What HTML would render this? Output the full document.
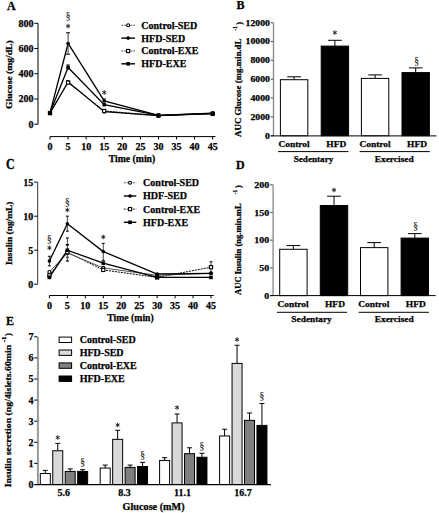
<!DOCTYPE html>
<html><head><meta charset="utf-8"><style>
html,body{margin:0;padding:0;background:#fff;}
body{width:439px;height:513px;overflow:hidden;}
svg{display:block;}
</style></head><body>
<svg width="439" height="513" viewBox="0 0 439 513" font-family="Liberation Serif" font-weight="bold" fill="#000"><style>text{stroke:#000;stroke-width:0.25px;}</style>
<rect x="0" y="0" width="439" height="513" fill="#fff"/>
<text transform="translate(7.00,10.00) scale(1,1.05)" x="0" y="0" font-size="12">A</text>
<line x1="38.00" y1="23.30" x2="38.00" y2="124.20" stroke="#000" stroke-width="1.0" />
<line x1="34.30" y1="124.20" x2="38.00" y2="124.20" stroke="#000" stroke-width="1.0" />
<text x="33.50" y="127.60" font-size="10" text-anchor="end" >0</text>
<line x1="34.30" y1="98.97" x2="38.00" y2="98.97" stroke="#000" stroke-width="1.0" />
<text x="33.50" y="102.38" font-size="10" text-anchor="end" >200</text>
<line x1="34.30" y1="73.75" x2="38.00" y2="73.75" stroke="#000" stroke-width="1.0" />
<text x="33.50" y="77.15" font-size="10" text-anchor="end" >400</text>
<line x1="34.30" y1="48.53" x2="38.00" y2="48.53" stroke="#000" stroke-width="1.0" />
<text x="33.50" y="51.93" font-size="10" text-anchor="end" >600</text>
<line x1="34.30" y1="23.30" x2="38.00" y2="23.30" stroke="#000" stroke-width="1.0" />
<text x="33.50" y="26.70" font-size="10" text-anchor="end" >800</text>
<text transform="translate(12.40,74.60) rotate(-90)" x="0" y="0" font-size="9" text-anchor="middle" textLength="68.6" lengthAdjust="spacingAndGlyphs">Glucose (mg/dL)</text>
<line x1="50.00" y1="136.60" x2="215.50" y2="136.60" stroke="#000" stroke-width="1.0" />
<line x1="50.00" y1="136.70" x2="50.00" y2="139.50" stroke="#000" stroke-width="1.0" />
<text x="50.00" y="150.20" font-size="10" text-anchor="middle" >0</text>
<line x1="68.08" y1="136.70" x2="68.08" y2="139.50" stroke="#000" stroke-width="1.0" />
<text x="68.08" y="150.20" font-size="10" text-anchor="middle" >5</text>
<line x1="86.16" y1="136.70" x2="86.16" y2="139.50" stroke="#000" stroke-width="1.0" />
<text x="86.16" y="150.20" font-size="10" text-anchor="middle" >10</text>
<line x1="104.23" y1="136.70" x2="104.23" y2="139.50" stroke="#000" stroke-width="1.0" />
<text x="104.23" y="150.20" font-size="10" text-anchor="middle" >15</text>
<line x1="122.31" y1="136.70" x2="122.31" y2="139.50" stroke="#000" stroke-width="1.0" />
<text x="122.31" y="150.20" font-size="10" text-anchor="middle" >20</text>
<line x1="140.39" y1="136.70" x2="140.39" y2="139.50" stroke="#000" stroke-width="1.0" />
<text x="140.39" y="150.20" font-size="10" text-anchor="middle" >25</text>
<line x1="158.47" y1="136.70" x2="158.47" y2="139.50" stroke="#000" stroke-width="1.0" />
<text x="158.47" y="150.20" font-size="10" text-anchor="middle" >30</text>
<line x1="176.54" y1="136.70" x2="176.54" y2="139.50" stroke="#000" stroke-width="1.0" />
<text x="176.54" y="150.20" font-size="10" text-anchor="middle" >35</text>
<line x1="194.62" y1="136.70" x2="194.62" y2="139.50" stroke="#000" stroke-width="1.0" />
<text x="194.62" y="150.20" font-size="10" text-anchor="middle" >40</text>
<line x1="212.70" y1="136.70" x2="212.70" y2="139.50" stroke="#000" stroke-width="1.0" />
<text x="212.70" y="150.20" font-size="10" text-anchor="middle" >45</text>
<text x="132.00" y="162.20" font-size="10" text-anchor="middle" textLength="46.5" lengthAdjust="spacingAndGlyphs" >Time (min)</text>
<polyline points="50.00,113.10 68.08,82.58 104.23,110.96 158.47,115.62 212.70,113.86" fill="none" stroke="#000" stroke-width="1.0" stroke-dasharray="2,1"/>
<polyline points="50.00,113.10 68.08,81.95 104.23,111.59 158.47,115.62 212.70,113.48" fill="none" stroke="#000" stroke-width="1.1"/>
<polyline points="50.00,112.85 68.08,67.44 104.23,104.65 158.47,115.37 212.70,113.48" fill="none" stroke="#000" stroke-width="1.3"/>
<polyline points="50.00,112.85 68.08,43.48 104.23,100.87 158.47,115.37 212.70,113.10" fill="none" stroke="#000" stroke-width="1.3"/>
<line x1="68.08" y1="32.76" x2="68.08" y2="54.20" stroke="#444" stroke-width="1" />
<line x1="66.08" y1="32.76" x2="70.08" y2="32.76" stroke="#222" stroke-width="1.2" />
<line x1="66.08" y1="54.20" x2="70.08" y2="54.20" stroke="#000" stroke-width="1" />
<line x1="68.08" y1="64.92" x2="68.08" y2="69.97" stroke="#444" stroke-width="1" />
<line x1="66.58" y1="64.92" x2="69.58" y2="64.92" stroke="#222" stroke-width="1.2" />
<line x1="104.23" y1="98.97" x2="104.23" y2="102.76" stroke="#444" stroke-width="1" />
<line x1="102.73" y1="98.97" x2="105.73" y2="98.97" stroke="#222" stroke-width="1.2" />
<circle cx="50.00" cy="113.10" r="1.50" fill="#fff" stroke="#000" stroke-width="1.1"/>
<circle cx="68.08" cy="81.95" r="1.50" fill="#fff" stroke="#000" stroke-width="1.1"/>
<circle cx="104.23" cy="111.59" r="1.50" fill="#fff" stroke="#000" stroke-width="1.1"/>
<circle cx="158.47" cy="115.62" r="1.50" fill="#fff" stroke="#000" stroke-width="1.1"/>
<circle cx="212.70" cy="113.48" r="1.50" fill="#fff" stroke="#000" stroke-width="1.1"/>
<rect x="48.40" y="111.50" width="3.20" height="3.20" fill="#fff" stroke="#000" stroke-width="1.1"/>
<rect x="66.48" y="80.98" width="3.20" height="3.20" fill="#fff" stroke="#000" stroke-width="1.1"/>
<rect x="102.63" y="109.36" width="3.20" height="3.20" fill="#fff" stroke="#000" stroke-width="1.1"/>
<rect x="156.87" y="114.02" width="3.20" height="3.20" fill="#fff" stroke="#000" stroke-width="1.1"/>
<rect x="211.10" y="112.26" width="3.20" height="3.20" fill="#fff" stroke="#000" stroke-width="1.1"/>
<rect x="48.20" y="111.05" width="3.60" height="3.60" fill="#000"/>
<rect x="66.28" y="65.64" width="3.60" height="3.60" fill="#000"/>
<rect x="102.43" y="102.85" width="3.60" height="3.60" fill="#000"/>
<rect x="156.67" y="113.57" width="3.60" height="3.60" fill="#000"/>
<rect x="210.90" y="111.68" width="3.60" height="3.60" fill="#000"/>
<circle cx="50.00" cy="112.85" r="1.80" fill="#000"/>
<circle cx="68.08" cy="43.48" r="1.80" fill="#000"/>
<circle cx="104.23" cy="100.87" r="1.80" fill="#000"/>
<circle cx="158.47" cy="115.37" r="1.80" fill="#000"/>
<circle cx="212.70" cy="113.10" r="1.80" fill="#000"/>
<path d="M68.08,23.80L68.08,28.40 M66.09,24.95L70.07,27.25 M70.07,24.95L66.09,27.25" stroke="#222" stroke-width="0.95" fill="none"/>
<text x="68.08" y="19.40" font-size="9.5" text-anchor="middle" font-weight="normal" fill="#222" style="stroke:#222;stroke-width:0.15px">§</text>
<path d="M104.23,90.20L104.23,94.80 M102.24,91.35L106.23,93.65 M106.23,91.35L102.24,93.65" stroke="#222" stroke-width="0.95" fill="none"/>
<line x1="121.30" y1="25.20" x2="135.00" y2="25.20" stroke="#555" stroke-width="1.1" stroke-dasharray="2,1"/>
<circle cx="128.15" cy="25.20" r="1.50" fill="#fff" stroke="#000" stroke-width="1.1"/>
<text x="141.30" y="28.60" font-size="10" text-anchor="start" >Control-SED</text>
<line x1="121.30" y1="38.10" x2="135.00" y2="38.10" stroke="#000" stroke-width="1.4" />
<circle cx="128.15" cy="38.10" r="1.80" fill="#000"/>
<text x="141.30" y="41.50" font-size="10" text-anchor="start" >HFD-SED</text>
<line x1="121.30" y1="51.00" x2="135.00" y2="51.00" stroke="#555" stroke-width="1.1" stroke-dasharray="2,1"/>
<rect x="126.55" y="49.40" width="3.20" height="3.20" fill="#fff" stroke="#000" stroke-width="1.1"/>
<text x="141.30" y="54.40" font-size="10" text-anchor="start" >Control-EXE</text>
<line x1="121.30" y1="63.80" x2="135.00" y2="63.80" stroke="#000" stroke-width="1.4" />
<rect x="126.35" y="62.00" width="3.60" height="3.60" fill="#000"/>
<text x="141.30" y="67.20" font-size="10" text-anchor="start" >HFD-EXE</text>
<text transform="translate(236.60,9.00) scale(1,1.0)" x="0" y="0" font-size="12">B</text>
<line x1="273.50" y1="22.70" x2="273.50" y2="135.70" stroke="#888" stroke-width="1.3" />
<line x1="270.80" y1="135.70" x2="273.20" y2="135.70" stroke="#666" stroke-width="1.2" />
<text x="269.90" y="138.60" font-size="8.1" text-anchor="end" textLength="4.86" lengthAdjust="spacingAndGlyphs" >0</text>
<line x1="270.80" y1="116.87" x2="273.20" y2="116.87" stroke="#666" stroke-width="1.2" />
<text x="269.90" y="119.77" font-size="8.1" text-anchor="end" textLength="19.44" lengthAdjust="spacingAndGlyphs" >2000</text>
<line x1="270.80" y1="98.03" x2="273.20" y2="98.03" stroke="#666" stroke-width="1.2" />
<text x="269.90" y="100.93" font-size="8.1" text-anchor="end" textLength="19.44" lengthAdjust="spacingAndGlyphs" >4000</text>
<line x1="270.80" y1="79.20" x2="273.20" y2="79.20" stroke="#666" stroke-width="1.2" />
<text x="269.90" y="82.10" font-size="8.1" text-anchor="end" textLength="19.44" lengthAdjust="spacingAndGlyphs" >6000</text>
<line x1="270.80" y1="60.37" x2="273.20" y2="60.37" stroke="#666" stroke-width="1.2" />
<text x="269.90" y="63.27" font-size="8.1" text-anchor="end" textLength="19.44" lengthAdjust="spacingAndGlyphs" >8000</text>
<line x1="270.80" y1="41.53" x2="273.20" y2="41.53" stroke="#666" stroke-width="1.2" />
<text x="269.90" y="44.43" font-size="8.1" text-anchor="end" textLength="24.3" lengthAdjust="spacingAndGlyphs" >10000</text>
<line x1="270.80" y1="22.70" x2="273.20" y2="22.70" stroke="#666" stroke-width="1.2" />
<text x="269.90" y="25.60" font-size="8.1" text-anchor="end" textLength="24.3" lengthAdjust="spacingAndGlyphs" >12000</text>
<line x1="270.80" y1="135.90" x2="436.40" y2="135.90" stroke="#000" stroke-width="1.0" />
<text transform="translate(241.10,136.90) rotate(-90)" x="0" y="0" font-size="7.8" text-anchor="start" textLength="98.3" lengthAdjust="spacingAndGlyphs">AUC Glucose (mg.min.dL</text>
<text transform="translate(236.60,30.40) rotate(-90)" x="0" y="0" font-size="5.5" text-anchor="start" textLength="4.2" lengthAdjust="spacingAndGlyphs">-1</text>
<text transform="translate(241.60,24.80) rotate(-90)" x="0" y="0" font-size="7.8" text-anchor="start" textLength="2.8" lengthAdjust="spacingAndGlyphs">)</text>
<line x1="294.10" y1="79.70" x2="294.10" y2="76.80" stroke="#000" stroke-width="1" />
<line x1="287.25" y1="76.80" x2="300.95" y2="76.80" stroke="#000" stroke-width="1" />
<rect x="280.40" y="79.70" width="27.40" height="56.00" fill="#fff" stroke="#000" stroke-width="1"/>
<line x1="334.90" y1="46.10" x2="334.90" y2="40.30" stroke="#000" stroke-width="1" />
<line x1="328.05" y1="40.30" x2="341.75" y2="40.30" stroke="#000" stroke-width="1" />
<rect x="321.20" y="46.10" width="27.40" height="89.60" fill="#000" stroke="#000" stroke-width="1"/>
<line x1="375.10" y1="78.40" x2="375.10" y2="74.90" stroke="#000" stroke-width="1" />
<line x1="368.25" y1="74.90" x2="381.95" y2="74.90" stroke="#000" stroke-width="1" />
<rect x="361.40" y="78.40" width="27.40" height="57.30" fill="#fff" stroke="#000" stroke-width="1"/>
<line x1="415.70" y1="72.60" x2="415.70" y2="67.90" stroke="#000" stroke-width="1" />
<line x1="408.85" y1="67.90" x2="422.55" y2="67.90" stroke="#000" stroke-width="1" />
<rect x="402.00" y="72.60" width="27.40" height="63.10" fill="#000" stroke="#000" stroke-width="1"/>
<path d="M334.90,30.30L334.90,34.90 M332.91,31.45L336.89,33.75 M336.89,31.45L332.91,33.75" stroke="#222" stroke-width="0.95" fill="none"/>
<text x="416.60" y="63.60" font-size="9.5" text-anchor="middle" font-weight="normal" fill="#222" style="stroke:#222;stroke-width:0.15px">§</text>
<text x="294.10" y="147.20" font-size="8.8" text-anchor="middle" textLength="31.21" lengthAdjust="spacingAndGlyphs" >Control</text>
<text x="336.30" y="147.20" font-size="8.8" text-anchor="middle" textLength="20.06" lengthAdjust="spacingAndGlyphs" >HFD</text>
<text x="375.10" y="147.20" font-size="8.8" text-anchor="middle" textLength="31.21" lengthAdjust="spacingAndGlyphs" >Control</text>
<text x="417.10" y="147.20" font-size="8.8" text-anchor="middle" textLength="20.06" lengthAdjust="spacingAndGlyphs" >HFD</text>
<line x1="278.10" y1="151.60" x2="348.40" y2="151.60" stroke="#000" stroke-width="1" />
<line x1="359.60" y1="151.60" x2="429.80" y2="151.60" stroke="#000" stroke-width="1" />
<text x="313.50" y="162.20" font-size="8.8" text-anchor="middle" textLength="39.66" lengthAdjust="spacingAndGlyphs" >Sedentary</text>
<text x="394.20" y="162.20" font-size="8.8" text-anchor="middle" textLength="39.05" lengthAdjust="spacingAndGlyphs" >Exercised</text>
<text transform="translate(5.90,169.30) scale(1,1.15)" x="0" y="0" font-size="12">C</text>
<line x1="37.60" y1="182.20" x2="37.60" y2="284.20" stroke="#555" stroke-width="1.2" />
<line x1="34.20" y1="284.20" x2="37.60" y2="284.20" stroke="#000" stroke-width="1.0" />
<text x="33.30" y="287.60" font-size="10" text-anchor="end" >0</text>
<line x1="34.20" y1="250.20" x2="37.60" y2="250.20" stroke="#000" stroke-width="1.0" />
<text x="33.30" y="253.60" font-size="10" text-anchor="end" >5</text>
<line x1="34.20" y1="216.20" x2="37.60" y2="216.20" stroke="#000" stroke-width="1.0" />
<text x="33.30" y="219.60" font-size="10" text-anchor="end" >10</text>
<line x1="34.20" y1="182.20" x2="37.60" y2="182.20" stroke="#000" stroke-width="1.0" />
<text x="33.30" y="185.60" font-size="10" text-anchor="end" >15</text>
<text transform="translate(12.20,233.30) rotate(-90)" x="0" y="0" font-size="9" text-anchor="middle" textLength="63.5" lengthAdjust="spacingAndGlyphs">Insulin (ng/mL)</text>
<line x1="49.40" y1="295.50" x2="213.80" y2="295.50" stroke="#000" stroke-width="1.0" />
<line x1="49.40" y1="295.50" x2="49.40" y2="298.30" stroke="#000" stroke-width="1.0" />
<text x="49.40" y="309.10" font-size="10" text-anchor="middle" >0</text>
<line x1="67.36" y1="295.50" x2="67.36" y2="298.30" stroke="#000" stroke-width="1.0" />
<text x="67.36" y="309.10" font-size="10" text-anchor="middle" >5</text>
<line x1="85.31" y1="295.50" x2="85.31" y2="298.30" stroke="#000" stroke-width="1.0" />
<text x="85.31" y="309.10" font-size="10" text-anchor="middle" >10</text>
<line x1="103.27" y1="295.50" x2="103.27" y2="298.30" stroke="#000" stroke-width="1.0" />
<text x="103.27" y="309.10" font-size="10" text-anchor="middle" >15</text>
<line x1="121.22" y1="295.50" x2="121.22" y2="298.30" stroke="#000" stroke-width="1.0" />
<text x="121.22" y="309.10" font-size="10" text-anchor="middle" >20</text>
<line x1="139.18" y1="295.50" x2="139.18" y2="298.30" stroke="#000" stroke-width="1.0" />
<text x="139.18" y="309.10" font-size="10" text-anchor="middle" >25</text>
<line x1="157.13" y1="295.50" x2="157.13" y2="298.30" stroke="#000" stroke-width="1.0" />
<text x="157.13" y="309.10" font-size="10" text-anchor="middle" >30</text>
<line x1="175.09" y1="295.50" x2="175.09" y2="298.30" stroke="#000" stroke-width="1.0" />
<text x="175.09" y="309.10" font-size="10" text-anchor="middle" >35</text>
<line x1="193.04" y1="295.50" x2="193.04" y2="298.30" stroke="#000" stroke-width="1.0" />
<text x="193.04" y="309.10" font-size="10" text-anchor="middle" >40</text>
<line x1="211.00" y1="295.50" x2="211.00" y2="298.30" stroke="#000" stroke-width="1.0" />
<text x="211.00" y="309.10" font-size="10" text-anchor="middle" >45</text>
<text x="130.50" y="320.60" font-size="10" text-anchor="middle" textLength="46.5" lengthAdjust="spacingAndGlyphs" >Time (min)</text>
<polyline points="49.40,275.36 67.36,252.24 103.27,269.92 157.13,277.40 211.00,267.20" fill="none" stroke="#000" stroke-width="1.0" stroke-dasharray="2,1"/>
<polyline points="49.40,271.96 67.36,252.92 103.27,267.88 157.13,275.36 211.00,273.32" fill="none" stroke="#555" stroke-width="1.0"/>
<polyline points="49.40,277.40 67.36,250.20 103.27,263.12 157.13,277.40 211.00,277.40" fill="none" stroke="#000" stroke-width="1.3"/>
<polyline points="49.40,261.08 67.36,223.68 103.27,251.56 157.13,274.00 211.00,273.32" fill="none" stroke="#000" stroke-width="1.3"/>
<line x1="49.40" y1="256.32" x2="49.40" y2="265.84" stroke="#444" stroke-width="1" />
<line x1="47.90" y1="256.32" x2="50.90" y2="256.32" stroke="#222" stroke-width="1.2" />
<line x1="47.90" y1="265.84" x2="50.90" y2="265.84" stroke="#000" stroke-width="1" />
<line x1="67.36" y1="216.20" x2="67.36" y2="231.16" stroke="#444" stroke-width="1" />
<line x1="65.86" y1="216.20" x2="68.86" y2="216.20" stroke="#222" stroke-width="1.2" />
<line x1="65.86" y1="231.16" x2="68.86" y2="231.16" stroke="#000" stroke-width="1" />
<line x1="67.36" y1="237.96" x2="67.36" y2="261.08" stroke="#444" stroke-width="1" />
<line x1="65.86" y1="237.96" x2="68.86" y2="237.96" stroke="#222" stroke-width="1.2" />
<line x1="65.86" y1="261.08" x2="68.86" y2="261.08" stroke="#000" stroke-width="1.2" />
<line x1="65.76" y1="244.80" x2="68.96" y2="244.80" stroke="#000" stroke-width="1.6" />
<line x1="65.86" y1="257.40" x2="68.86" y2="257.40" stroke="#555" stroke-width="1.4" />
<line x1="103.27" y1="243.40" x2="103.27" y2="260.40" stroke="#444" stroke-width="1" />
<line x1="101.77" y1="243.40" x2="104.77" y2="243.40" stroke="#222" stroke-width="1.2" />
<line x1="101.77" y1="260.40" x2="104.77" y2="260.40" stroke="#000" stroke-width="1" />
<line x1="211.00" y1="261.76" x2="211.00" y2="271.96" stroke="#444" stroke-width="1" />
<line x1="209.50" y1="261.76" x2="212.50" y2="261.76" stroke="#222" stroke-width="1.2" />
<circle cx="49.40" cy="271.96" r="1.50" fill="#fff" stroke="#000" stroke-width="1.1"/>
<circle cx="67.36" cy="252.92" r="1.50" fill="#fff" stroke="#000" stroke-width="1.1"/>
<circle cx="103.27" cy="267.88" r="1.50" fill="#fff" stroke="#000" stroke-width="1.1"/>
<circle cx="157.13" cy="275.36" r="1.50" fill="#fff" stroke="#000" stroke-width="1.1"/>
<circle cx="211.00" cy="273.32" r="1.50" fill="#fff" stroke="#000" stroke-width="1.1"/>
<rect x="47.80" y="273.76" width="3.20" height="3.20" fill="#fff" stroke="#000" stroke-width="1.1"/>
<rect x="65.76" y="250.64" width="3.20" height="3.20" fill="#fff" stroke="#000" stroke-width="1.1"/>
<rect x="101.67" y="268.32" width="3.20" height="3.20" fill="#fff" stroke="#000" stroke-width="1.1"/>
<rect x="155.53" y="275.80" width="3.20" height="3.20" fill="#fff" stroke="#000" stroke-width="1.1"/>
<rect x="209.40" y="265.60" width="3.20" height="3.20" fill="#fff" stroke="#000" stroke-width="1.1"/>
<rect x="47.60" y="275.60" width="3.60" height="3.60" fill="#000"/>
<rect x="65.56" y="248.40" width="3.60" height="3.60" fill="#000"/>
<rect x="101.47" y="261.32" width="3.60" height="3.60" fill="#000"/>
<rect x="155.33" y="275.60" width="3.60" height="3.60" fill="#000"/>
<rect x="209.20" y="275.60" width="3.60" height="3.60" fill="#000"/>
<circle cx="49.40" cy="261.08" r="1.80" fill="#000"/>
<circle cx="67.36" cy="223.68" r="1.80" fill="#000"/>
<circle cx="103.27" cy="251.56" r="1.80" fill="#000"/>
<circle cx="157.13" cy="274.00" r="1.80" fill="#000"/>
<circle cx="211.00" cy="273.32" r="1.80" fill="#000"/>
<path d="M49.40,245.50L49.40,250.10 M47.41,246.65L51.39,248.95 M51.39,246.65L47.41,248.95" stroke="#222" stroke-width="0.95" fill="none"/>
<text x="49.40" y="241.70" font-size="9.5" text-anchor="middle" font-weight="normal" fill="#222" style="stroke:#222;stroke-width:0.15px">§</text>
<path d="M67.36,207.70L67.36,212.30 M65.36,208.85L69.35,211.15 M69.35,208.85L65.36,211.15" stroke="#222" stroke-width="0.95" fill="none"/>
<text x="67.36" y="204.60" font-size="9.5" text-anchor="middle" font-weight="normal" fill="#222" style="stroke:#222;stroke-width:0.15px">§</text>
<path d="M103.27,234.70L103.27,239.30 M101.27,235.85L105.26,238.15 M105.26,235.85L101.27,238.15" stroke="#222" stroke-width="0.95" fill="none"/>
<line x1="123.80" y1="182.80" x2="136.30" y2="182.80" stroke="#555" stroke-width="1.1" stroke-dasharray="2,1"/>
<circle cx="130.05" cy="182.80" r="1.50" fill="#fff" stroke="#000" stroke-width="1.1"/>
<text x="143.10" y="186.20" font-size="10" text-anchor="start" >Control-SED</text>
<line x1="123.80" y1="196.00" x2="136.30" y2="196.00" stroke="#000" stroke-width="1.4" />
<circle cx="130.05" cy="196.00" r="1.80" fill="#000"/>
<text x="143.10" y="199.40" font-size="10" text-anchor="start" >HDF-SED</text>
<line x1="123.80" y1="209.10" x2="136.30" y2="209.10" stroke="#555" stroke-width="1.1" stroke-dasharray="2,1"/>
<rect x="128.45" y="207.50" width="3.20" height="3.20" fill="#fff" stroke="#000" stroke-width="1.1"/>
<text x="143.10" y="212.50" font-size="10" text-anchor="start" >Control-EXE</text>
<line x1="123.80" y1="222.30" x2="136.30" y2="222.30" stroke="#000" stroke-width="1.4" />
<rect x="128.25" y="220.50" width="3.60" height="3.60" fill="#000"/>
<text x="143.10" y="225.70" font-size="10" text-anchor="start" >HFD-EXE</text>
<text transform="translate(236.00,168.70) scale(1,1.1)" x="0" y="0" font-size="12">D</text>
<line x1="273.10" y1="184.80" x2="273.10" y2="295.60" stroke="#888" stroke-width="1.3" />
<line x1="270.20" y1="295.60" x2="272.80" y2="295.60" stroke="#666" stroke-width="1.2" />
<text x="269.20" y="298.60" font-size="8.8" text-anchor="end" textLength="4.97" lengthAdjust="spacingAndGlyphs" >0</text>
<line x1="270.20" y1="267.90" x2="272.80" y2="267.90" stroke="#666" stroke-width="1.2" />
<text x="269.20" y="270.90" font-size="8.8" text-anchor="end" textLength="9.94" lengthAdjust="spacingAndGlyphs" >50</text>
<line x1="270.20" y1="240.20" x2="272.80" y2="240.20" stroke="#666" stroke-width="1.2" />
<text x="269.20" y="243.20" font-size="8.8" text-anchor="end" textLength="14.92" lengthAdjust="spacingAndGlyphs" >100</text>
<line x1="270.20" y1="212.50" x2="272.80" y2="212.50" stroke="#666" stroke-width="1.2" />
<text x="269.20" y="215.50" font-size="8.8" text-anchor="end" textLength="14.92" lengthAdjust="spacingAndGlyphs" >150</text>
<line x1="270.20" y1="184.80" x2="272.80" y2="184.80" stroke="#666" stroke-width="1.2" />
<text x="269.20" y="187.80" font-size="8.8" text-anchor="end" textLength="14.92" lengthAdjust="spacingAndGlyphs" >200</text>
<line x1="270.20" y1="295.60" x2="435.70" y2="295.60" stroke="#000" stroke-width="1.0" />
<text transform="translate(240.80,294.90) rotate(-90)" x="0" y="0" font-size="7.8" text-anchor="start" textLength="91.5" lengthAdjust="spacingAndGlyphs">AUC Insulin (ng.min.mL</text>
<text transform="translate(236.60,194.20) rotate(-90)" x="0" y="0" font-size="5.5" text-anchor="start" textLength="4.2" lengthAdjust="spacingAndGlyphs">-1</text>
<text transform="translate(241.20,188.10) rotate(-90)" x="0" y="0" font-size="7.8" text-anchor="start" textLength="2.8" lengthAdjust="spacingAndGlyphs">)</text>
<line x1="293.40" y1="249.29" x2="293.40" y2="245.57" stroke="#000" stroke-width="1" />
<line x1="286.55" y1="245.57" x2="300.25" y2="245.57" stroke="#000" stroke-width="1" />
<rect x="279.70" y="249.29" width="27.40" height="46.31" fill="#fff" stroke="#000" stroke-width="1"/>
<line x1="334.00" y1="205.52" x2="334.00" y2="196.21" stroke="#000" stroke-width="1" />
<line x1="327.15" y1="196.21" x2="340.85" y2="196.21" stroke="#000" stroke-width="1" />
<rect x="320.30" y="205.52" width="27.40" height="90.08" fill="#000" stroke="#000" stroke-width="1"/>
<line x1="374.20" y1="247.62" x2="374.20" y2="242.58" stroke="#000" stroke-width="1" />
<line x1="367.35" y1="242.58" x2="381.05" y2="242.58" stroke="#000" stroke-width="1" />
<rect x="360.50" y="247.62" width="27.40" height="47.98" fill="#fff" stroke="#000" stroke-width="1"/>
<line x1="414.80" y1="238.09" x2="414.80" y2="233.61" stroke="#000" stroke-width="1" />
<line x1="407.95" y1="233.61" x2="421.65" y2="233.61" stroke="#000" stroke-width="1" />
<rect x="401.10" y="238.09" width="27.40" height="57.51" fill="#000" stroke="#000" stroke-width="1"/>
<path d="M334.00,187.70L334.00,192.30 M332.01,188.85L335.99,191.15 M335.99,188.85L332.01,191.15" stroke="#222" stroke-width="0.95" fill="none"/>
<text x="415.70" y="229.20" font-size="9.5" text-anchor="middle" font-weight="normal" fill="#222" style="stroke:#222;stroke-width:0.15px">§</text>
<text x="293.00" y="307.00" font-size="8.8" text-anchor="middle" textLength="31.21" lengthAdjust="spacingAndGlyphs" >Control</text>
<text x="335.00" y="307.00" font-size="8.8" text-anchor="middle" textLength="20.06" lengthAdjust="spacingAndGlyphs" >HFD</text>
<text x="373.80" y="307.00" font-size="8.8" text-anchor="middle" textLength="31.21" lengthAdjust="spacingAndGlyphs" >Control</text>
<text x="415.80" y="307.00" font-size="8.8" text-anchor="middle" textLength="20.06" lengthAdjust="spacingAndGlyphs" >HFD</text>
<line x1="276.90" y1="312.30" x2="347.00" y2="312.30" stroke="#000" stroke-width="1" />
<line x1="358.60" y1="312.30" x2="428.90" y2="312.30" stroke="#000" stroke-width="1" />
<text x="311.60" y="322.10" font-size="8.8" text-anchor="middle" textLength="40.42" lengthAdjust="spacingAndGlyphs" >Sedentary</text>
<text x="394.20" y="322.10" font-size="8.8" text-anchor="middle" textLength="39.05" lengthAdjust="spacingAndGlyphs" >Exercised</text>
<text transform="translate(5.90,325.30) scale(1,1.1)" x="0" y="0" font-size="12">E</text>
<line x1="37.90" y1="336.80" x2="37.90" y2="484.50" stroke="#999" stroke-width="2.0" />
<line x1="34.20" y1="484.50" x2="37.40" y2="484.50" stroke="#000" stroke-width="1.0" />
<text x="33.60" y="487.90" font-size="10" text-anchor="end" >0</text>
<line x1="34.20" y1="463.40" x2="37.40" y2="463.40" stroke="#000" stroke-width="1.0" />
<text x="33.60" y="466.80" font-size="10" text-anchor="end" >1</text>
<line x1="34.20" y1="442.30" x2="37.40" y2="442.30" stroke="#000" stroke-width="1.0" />
<text x="33.60" y="445.70" font-size="10" text-anchor="end" >2</text>
<line x1="34.20" y1="421.20" x2="37.40" y2="421.20" stroke="#000" stroke-width="1.0" />
<text x="33.60" y="424.60" font-size="10" text-anchor="end" >3</text>
<line x1="34.20" y1="400.10" x2="37.40" y2="400.10" stroke="#000" stroke-width="1.0" />
<text x="33.60" y="403.50" font-size="10" text-anchor="end" >4</text>
<line x1="34.20" y1="379.00" x2="37.40" y2="379.00" stroke="#000" stroke-width="1.0" />
<text x="33.60" y="382.40" font-size="10" text-anchor="end" >5</text>
<line x1="34.20" y1="357.90" x2="37.40" y2="357.90" stroke="#000" stroke-width="1.0" />
<text x="33.60" y="361.30" font-size="10" text-anchor="end" >6</text>
<line x1="34.20" y1="336.80" x2="37.40" y2="336.80" stroke="#000" stroke-width="1.0" />
<text x="33.60" y="340.20" font-size="10" text-anchor="end" >7</text>
<line x1="34.50" y1="484.70" x2="271.00" y2="484.70" stroke="#000" stroke-width="1.3" />
<text transform="translate(11.00,487.20) rotate(-90)" x="0" y="0" font-size="9.2" text-anchor="start" textLength="142.4" lengthAdjust="spacingAndGlyphs">Insulin secretion (ng/4islets.60min</text>
<text transform="translate(6.00,342.20) rotate(-90)" x="0" y="0" font-size="5.2" text-anchor="start" textLength="5.6" lengthAdjust="spacingAndGlyphs">-1</text>
<text transform="translate(10.60,335.90) rotate(-90)" x="0" y="0" font-size="9" text-anchor="start" textLength="3.0" lengthAdjust="spacingAndGlyphs">)</text>
<line x1="45.30" y1="473.53" x2="45.30" y2="470.36" stroke="#000" stroke-width="1" />
<line x1="42.80" y1="470.36" x2="47.80" y2="470.36" stroke="#000" stroke-width="1" />
<rect x="40.30" y="473.53" width="10.00" height="10.97" fill="#fff" stroke="#000" stroke-width="1"/>
<line x1="57.75" y1="450.74" x2="57.75" y2="443.36" stroke="#000" stroke-width="1" />
<line x1="55.25" y1="443.36" x2="60.25" y2="443.36" stroke="#000" stroke-width="1" />
<rect x="52.75" y="450.74" width="10.00" height="33.76" fill="#d9d9d9" stroke="#000" stroke-width="1"/>
<line x1="70.20" y1="471.42" x2="70.20" y2="468.89" stroke="#000" stroke-width="1" />
<line x1="67.70" y1="468.89" x2="72.70" y2="468.89" stroke="#000" stroke-width="1" />
<rect x="65.20" y="471.42" width="10.00" height="13.08" fill="#7f7f7f" stroke="#000" stroke-width="1"/>
<line x1="82.65" y1="471.42" x2="82.65" y2="469.73" stroke="#000" stroke-width="1" />
<line x1="80.15" y1="469.73" x2="85.15" y2="469.73" stroke="#000" stroke-width="1" />
<rect x="77.65" y="471.42" width="10.00" height="13.08" fill="#000" stroke="#000" stroke-width="1"/>
<path d="M57.75,435.20L57.75,439.80 M55.76,436.35L59.74,438.65 M59.74,436.35L55.76,438.65" stroke="#222" stroke-width="0.95" fill="none"/>
<text x="82.65" y="465.30" font-size="9.5" text-anchor="middle" font-weight="normal" fill="#222" style="stroke:#222;stroke-width:0.15px">§</text>
<line x1="105.20" y1="468.04" x2="105.20" y2="465.09" stroke="#000" stroke-width="1" />
<line x1="102.70" y1="465.09" x2="107.70" y2="465.09" stroke="#000" stroke-width="1" />
<rect x="100.20" y="468.04" width="10.00" height="16.46" fill="#fff" stroke="#000" stroke-width="1"/>
<line x1="117.65" y1="439.35" x2="117.65" y2="430.27" stroke="#000" stroke-width="1" />
<line x1="115.15" y1="430.27" x2="120.15" y2="430.27" stroke="#000" stroke-width="1" />
<rect x="112.65" y="439.35" width="10.00" height="45.15" fill="#d9d9d9" stroke="#000" stroke-width="1"/>
<line x1="130.10" y1="467.41" x2="130.10" y2="465.09" stroke="#000" stroke-width="1" />
<line x1="127.60" y1="465.09" x2="132.60" y2="465.09" stroke="#000" stroke-width="1" />
<rect x="125.10" y="467.41" width="10.00" height="17.09" fill="#7f7f7f" stroke="#000" stroke-width="1"/>
<line x1="142.55" y1="466.56" x2="142.55" y2="462.35" stroke="#000" stroke-width="1" />
<line x1="140.05" y1="462.35" x2="145.05" y2="462.35" stroke="#000" stroke-width="1" />
<rect x="137.55" y="466.56" width="10.00" height="17.94" fill="#000" stroke="#000" stroke-width="1"/>
<path d="M117.65,422.70L117.65,427.30 M115.66,423.85L119.64,426.15 M119.64,423.85L115.66,426.15" stroke="#222" stroke-width="0.95" fill="none"/>
<text x="142.55" y="458.20" font-size="9.5" text-anchor="middle" font-weight="normal" fill="#222" style="stroke:#222;stroke-width:0.15px">§</text>
<line x1="164.60" y1="460.45" x2="164.60" y2="457.70" stroke="#000" stroke-width="1" />
<line x1="162.10" y1="457.70" x2="167.10" y2="457.70" stroke="#000" stroke-width="1" />
<rect x="159.60" y="460.45" width="10.00" height="24.05" fill="#fff" stroke="#000" stroke-width="1"/>
<line x1="177.05" y1="422.89" x2="177.05" y2="414.03" stroke="#000" stroke-width="1" />
<line x1="174.55" y1="414.03" x2="179.55" y2="414.03" stroke="#000" stroke-width="1" />
<rect x="172.05" y="422.89" width="10.00" height="61.61" fill="#d9d9d9" stroke="#000" stroke-width="1"/>
<line x1="189.50" y1="453.69" x2="189.50" y2="447.79" stroke="#000" stroke-width="1" />
<line x1="187.00" y1="447.79" x2="192.00" y2="447.79" stroke="#000" stroke-width="1" />
<rect x="184.50" y="453.69" width="10.00" height="30.81" fill="#7f7f7f" stroke="#000" stroke-width="1"/>
<line x1="201.95" y1="457.28" x2="201.95" y2="453.27" stroke="#000" stroke-width="1" />
<line x1="199.45" y1="453.27" x2="204.45" y2="453.27" stroke="#000" stroke-width="1" />
<rect x="196.95" y="457.28" width="10.00" height="27.22" fill="#000" stroke="#000" stroke-width="1"/>
<path d="M177.05,405.20L177.05,409.80 M175.06,406.35L179.04,408.65 M179.04,406.35L175.06,408.65" stroke="#222" stroke-width="0.95" fill="none"/>
<text x="201.95" y="448.80" font-size="9.5" text-anchor="middle" font-weight="normal" fill="#222" style="stroke:#222;stroke-width:0.15px">§</text>
<line x1="224.60" y1="435.97" x2="224.60" y2="429.22" stroke="#000" stroke-width="1" />
<line x1="222.10" y1="429.22" x2="227.10" y2="429.22" stroke="#000" stroke-width="1" />
<rect x="219.60" y="435.97" width="10.00" height="48.53" fill="#fff" stroke="#000" stroke-width="1"/>
<line x1="237.05" y1="363.39" x2="237.05" y2="345.24" stroke="#000" stroke-width="1" />
<line x1="234.55" y1="345.24" x2="239.55" y2="345.24" stroke="#000" stroke-width="1" />
<rect x="232.05" y="363.39" width="10.00" height="121.11" fill="#d9d9d9" stroke="#000" stroke-width="1"/>
<line x1="249.50" y1="420.36" x2="249.50" y2="412.97" stroke="#000" stroke-width="1" />
<line x1="247.00" y1="412.97" x2="252.00" y2="412.97" stroke="#000" stroke-width="1" />
<rect x="244.50" y="420.36" width="10.00" height="64.14" fill="#7f7f7f" stroke="#000" stroke-width="1"/>
<line x1="261.95" y1="425.42" x2="261.95" y2="403.48" stroke="#000" stroke-width="1" />
<line x1="259.45" y1="403.48" x2="264.45" y2="403.48" stroke="#000" stroke-width="1" />
<rect x="256.95" y="425.42" width="10.00" height="59.08" fill="#000" stroke="#000" stroke-width="1"/>
<path d="M237.05,337.30L237.05,341.90 M235.06,338.45L239.04,340.75 M239.04,338.45L235.06,340.75" stroke="#222" stroke-width="0.95" fill="none"/>
<text x="261.95" y="398.80" font-size="9.5" text-anchor="middle" font-weight="normal" fill="#222" style="stroke:#222;stroke-width:0.15px">§</text>
<text x="63.70" y="495.80" font-size="10" text-anchor="middle" >5.6</text>
<text x="124.50" y="495.80" font-size="10" text-anchor="middle" >8.3</text>
<text x="182.50" y="495.80" font-size="10" text-anchor="middle" >11.1</text>
<text x="242.90" y="495.80" font-size="10" text-anchor="middle" >16.7</text>
<text x="153.60" y="509.80" font-size="10" text-anchor="middle" textLength="62" lengthAdjust="spacingAndGlyphs" >Glucose (mM)</text>
<rect x="59.10" y="337.10" width="12.50" height="5.40" fill="#fff" stroke="#000" stroke-width="1"/>
<text x="79.70" y="343.20" font-size="10" text-anchor="start" >Control-SED</text>
<rect x="59.10" y="350.00" width="12.50" height="5.40" fill="#d9d9d9" stroke="#000" stroke-width="1"/>
<text x="79.70" y="356.10" font-size="10" text-anchor="start" >HFD-SED</text>
<rect x="59.10" y="362.90" width="12.50" height="5.40" fill="#7f7f7f" stroke="#000" stroke-width="1"/>
<text x="79.70" y="369.00" font-size="10" text-anchor="start" >Control-EXE</text>
<rect x="59.10" y="376.00" width="12.50" height="5.40" fill="#000" stroke="#000" stroke-width="1"/>
<text x="79.70" y="382.10" font-size="10" text-anchor="start" >HFD-EXE</text>
</svg>
</body></html>
